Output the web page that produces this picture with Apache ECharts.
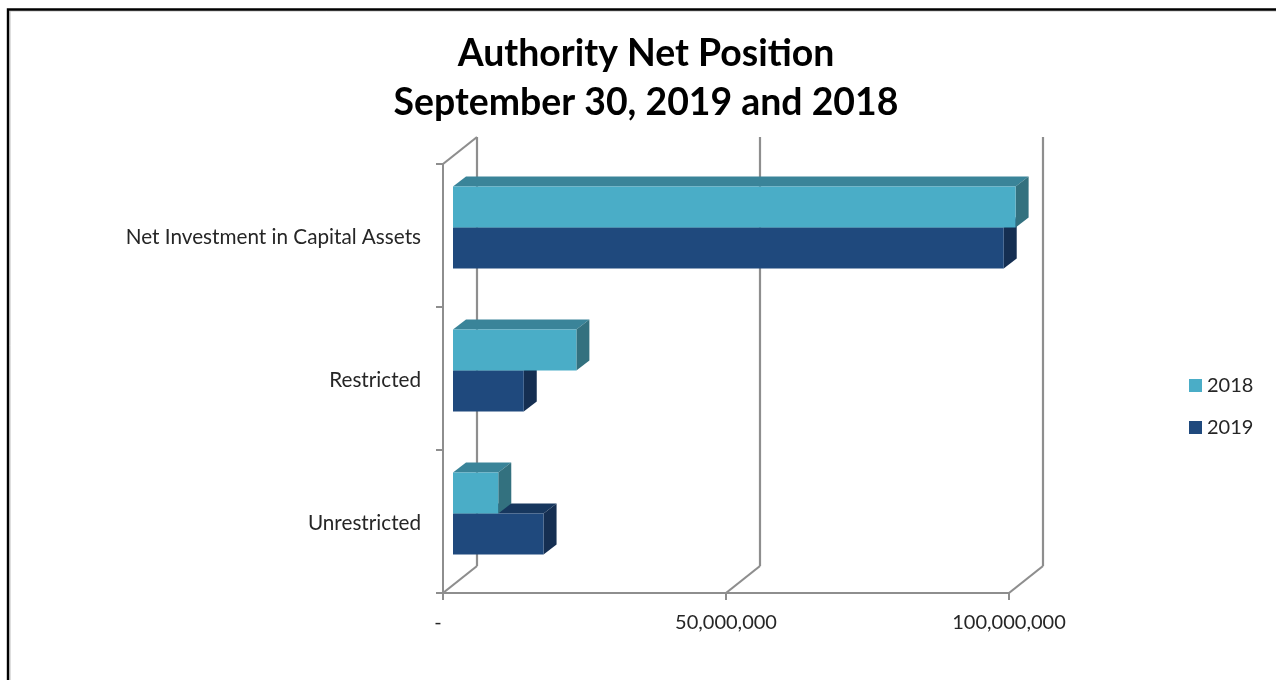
<!DOCTYPE html>
<html>
<head>
<meta charset="utf-8">
<title>Authority Net Position</title>
<script src="https://cdn.jsdelivr.net/npm/echarts@6/dist/echarts.min.js"></script>
<style>
  html, body { margin: 0; padding: 0; background: #fff; }
  #chart { width: 1276px; height: 680px; }
</style>
</head>
<body>
<div id="chart"></div>
<script>
var categories = ['Net Investment in Capital Assets', 'Restricted', 'Unrestricted'];
var values2018 = [99400000, 21800000, 8000000];
var values2019 = [97300000, 12500000, 16000000];
var xTicks = [0, 50000000, 100000000];

// fake 3D: how far the back wall sits from the front plane, in px
var DEPTH_X = 34, DEPTH_Y = -27;
var BAR_DX = 10, BAR_DY = -8;
var BAR_SIDE_X = 13, BAR_SIDE_Y = -10;
var BAR_H = 41;
var GRID_COLOR = '#8e8e8e';

function wallItem(params, api) {
    var cs = params.coordSys;
    var x = api.coord([api.value(0), 0])[0];
    var top = cs.y, bottom = cs.y + cs.height;
    var style = { stroke: GRID_COLOR, lineWidth: 2.2, fill: null };
    var children = [
        { type: 'line', shape: { x1: x + DEPTH_X, y1: top + DEPTH_Y, x2: x + DEPTH_X, y2: bottom + DEPTH_Y }, style: style },
        { type: 'line', shape: { x1: x, y1: bottom, x2: x + DEPTH_X, y2: bottom + DEPTH_Y }, style: style }
    ];
    if (params.dataIndex === 0) {
        children.push({ type: 'line', shape: { x1: x, y1: top, x2: x + DEPTH_X, y2: top + DEPTH_Y }, style: style });
    }
    return { type: 'group', children: children };
}

// barOffset: 0 = upper bar of the band (2018), 1 = lower bar (2019)
function barRenderer(barOffset, front, topFace, side) {
    return function (params, api) {
        var end = api.coord([api.value(0), api.value(1)]);
        var start = api.coord([0, api.value(1)]);
        var x0 = start[0] + BAR_DX;
        var x1 = end[0] + BAR_DX;
        var y0 = end[1] + BAR_DY + (barOffset - 1) * BAR_H;
        var y1 = y0 + BAR_H;
        return {
            type: 'group',
            children: [
                { type: 'polygon', shape: { points: [[x0, y0], [x1, y0], [x1 + BAR_SIDE_X, y0 + BAR_SIDE_Y], [x0 + BAR_SIDE_X, y0 + BAR_SIDE_Y]] }, style: { fill: topFace } },
                { type: 'polygon', shape: { points: [[x1, y0], [x1 + BAR_SIDE_X, y0 + BAR_SIDE_Y], [x1 + BAR_SIDE_X, y1 + BAR_SIDE_Y], [x1, y1]] }, style: { fill: side } },
                { type: 'rect', shape: { x: x0, y: y0, width: x1 - x0, height: BAR_H }, style: { fill: front } }
            ]
        };
    };
}

var chart = echarts.init(document.getElementById('chart'));
chart.setOption({
    animation: false,
    backgroundColor: '#fff',
    textStyle: { fontFamily: 'Lato' },
    title: {
        text: 'Authority Net Position\nSeptember 30, 2019 and 2018',
        left: 641,
        top: 24,
        textAlign: 'center',
        textStyle: { fontFamily: 'Lato', fontSize: 37.4, fontWeight: 'bold', color: '#000', lineHeight: 49 }
    },
    legend: {
        orient: 'vertical',
        left: 1184,
        top: 369,
        icon: 'rect',
        itemWidth: 13,
        itemHeight: 13,
        itemGap: 19,
        selectedMode: false,
        data: ['2018', '2019'],
        textStyle: { fontFamily: 'Lato', fontSize: 20, color: '#262626', lineHeight: 23 }
    },
    grid: { left: 443, top: 164, width: 566, height: 429 },
    xAxis: {
        type: 'value',
        min: 0,
        max: 100000000,
        interval: 50000000,
        splitLine: { show: false },
        axisLine: { show: true, lineStyle: { color: GRID_COLOR, width: 2 } },
        axisTick: { show: true, length: 7, lineStyle: { color: GRID_COLOR, width: 2 } },
        axisLabel: {
            margin: 20,
            fontFamily: 'Lato',
            fontSize: 20,
            color: '#262626',
            showMinLabel: true,
            showMaxLabel: true,
            hideOverlap: false,
            formatter: function (v) {
                return v === 0 ? '{dash|-}' : v.toLocaleString('en-US');
            },
            rich: { dash: { fontFamily: 'Lato', fontSize: 20, color: '#262626', padding: [0, 10, 0, 0] } }
        }
    },
    yAxis: {
        type: 'category',
        inverse: true,
        data: categories,
        splitLine: { show: false },
        axisLine: { show: true, lineStyle: { color: GRID_COLOR, width: 2 } },
        axisTick: { show: true, length: 7, alignWithLabel: false, lineStyle: { color: GRID_COLOR, width: 2 } },
        axisLabel: {
            margin: 22,
            formatter: function (v) {
                return '{cat|' + v + '}';
            },
            rich: { cat: { fontFamily: 'Lato', fontSize: 20.7, color: '#262626', padding: [4, 0, 0, 0] } }
        }
    },
    series: [
        {
            name: 'walls',
            type: 'custom',
            z: 1,
            silent: true,
            renderItem: wallItem,
            encode: { x: 0 },
            data: xTicks.map(function (v) { return [v, 0]; })
        },
        {
            name: '2018',
            type: 'custom',
            z: 4,
            itemStyle: { color: '#4AADC7' },
            renderItem: barRenderer(0, '#4AADC7', '#3A8499', '#33717F'),
            encode: { x: 0, y: 1 },
            data: values2018.map(function (v, i) { return [v, i]; })
        },
        {
            name: '2019',
            type: 'custom',
            z: 3,
            itemStyle: { color: '#1F497D' },
            renderItem: barRenderer(1, '#1F497D', '#17375E', '#152F52'),
            encode: { x: 0, y: 1 },
            data: values2019.map(function (v, i) { return [v, i]; })
        }
    ],
    graphic: [
        // picture frame of the source slide, open at the right and bottom
        { type: 'polyline', z: 9, shape: { points: [[10, 680], [10, 11], [1276, 11]] }, style: { stroke: '#bdbdbd', lineWidth: 1, fill: null } },
        { type: 'polyline', z: 10, shape: { points: [[8, 680], [8, 9.5], [1276, 9.5]] }, style: { stroke: '#000', lineWidth: 2.4, fill: null } }
    ]
});
</script>
</body>
</html>
